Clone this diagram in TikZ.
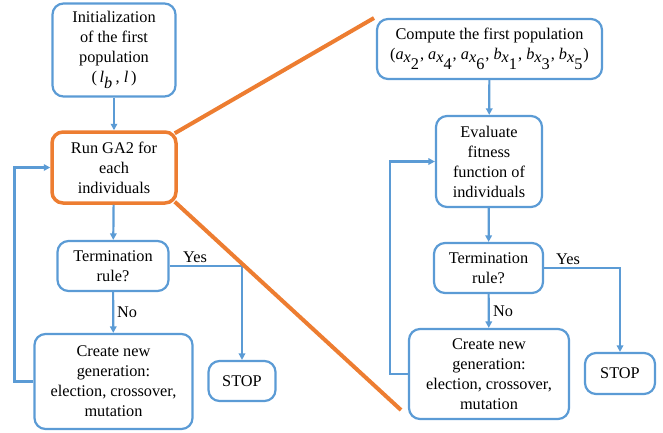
\documentclass[tikz,border=0pt]{standalone}
\usepackage{fontspec}
\setmainfont{Liberation Serif}
\usetikzlibrary{arrows.meta}
\definecolor{bblue}{HTML}{5B9BD5}
\definecolor{oorange}{HTML}{ED7D31}
\newcommand{\vi}[1]{\textit{#1}}
\newcommand{\vs}[2]{$\textit{#1}_{\textit{x}_{\textrm{#2}}}$}
\begin{document}
\begin{tikzpicture}[x=1pt,y=-1pt,
  box/.style={draw=bblue,line width=2.2pt,rounded corners=11pt,align=center,inner sep=0pt,
    font=\fontsize{16.3}{20}\selectfont,text=black},
  hbox/.style={box,draw=oorange,line width=3.5pt},
  conn/.style={draw=bblue,line width=2.2pt,-{Triangle[length=6.5pt,width=6.5pt]}},
  oline/.style={draw=oorange,line width=4pt},
  lbl/.style={font=\fontsize{16.3}{20}\selectfont,text=black,inner sep=0pt}]
\useasboundingbox (0,0) rectangle (663,432);
% left
\node[box,minimum width=123pt,minimum height=93pt] (init) at (114,50) {Initialization\\of the first\\population\\(\,$\textit{l}_{\textit{b}}$\,, \textit{l}\,)};
\node[hbox,minimum width=124pt,minimum height=71pt] (run) at (114,167.5) {Run GA2 for\\each\\individuals};
\node[box,minimum width=111pt,minimum height=50pt] (term) at (113,266) {Termination\\rule?};
\node[box,minimum width=158pt,minimum height=95pt] (create) at (113.5,381.5) {Create new\\generation:\\election, crossover,\\mutation};
\node[box,minimum width=67pt,minimum height=40pt] (stop) at (242,381) {STOP};
\node[lbl] (yes) at (195,257) {Yes};
\node[lbl] (no) at (127,312) {No};
% right
\node[box,minimum width=225pt,minimum height=60pt] (comp) at (489.5,49) {Compute the first population\\(\vs{a}{2}, \vs{a}{4}, \vs{a}{6}, \vs{b}{1}, \vs{b}{3}, \vs{b}{5})};
\node[box,minimum width=106pt,minimum height=91pt] (eval) at (489,161.5) {Evaluate\\fitness\\function of\\individuals};
\node[box,minimum width=109pt,minimum height=50pt] (term2) at (488.5,268) {Termination\\rule?};
\node[box,minimum width=160pt,minimum height=90pt] (create2) at (489,374) {Create new\\generation:\\election, crossover,\\mutation};
\node[box,minimum width=70pt,minimum height=41pt] (stop2) at (620,373.5) {STOP};
\node[lbl] (yes2) at (568,259) {Yes};
\node[lbl] (no2) at (503,311) {No};
% connectors left
\draw[conn] (init) -- (run);
\draw[conn] (run) -- (term);
\draw[conn] (term) -- (create);
\draw[conn] (term.east) -| (stop.north);
\draw[conn] (create.west) -- ++(-19,0) |- (run.west);
% connectors right
\draw[conn] (comp) -- (eval);
\draw[conn] (eval) -- (term2);
\draw[conn] (term2) -- (create2);
\draw[conn] (term2.east) -| (stop2.north);
\draw[conn] (create2.west) -- ++(-18,0) |- (eval.west);
% orange zoom lines
\coordinate (o1) at (374,18);
\coordinate (o2) at (401,410);
\draw[oline] ([shift={(-3,3)}]run.north east) -- (o1);
\draw[oline] ([shift={(-3,-3)}]run.south east) -- (o2);
\end{tikzpicture}
\end{document}
